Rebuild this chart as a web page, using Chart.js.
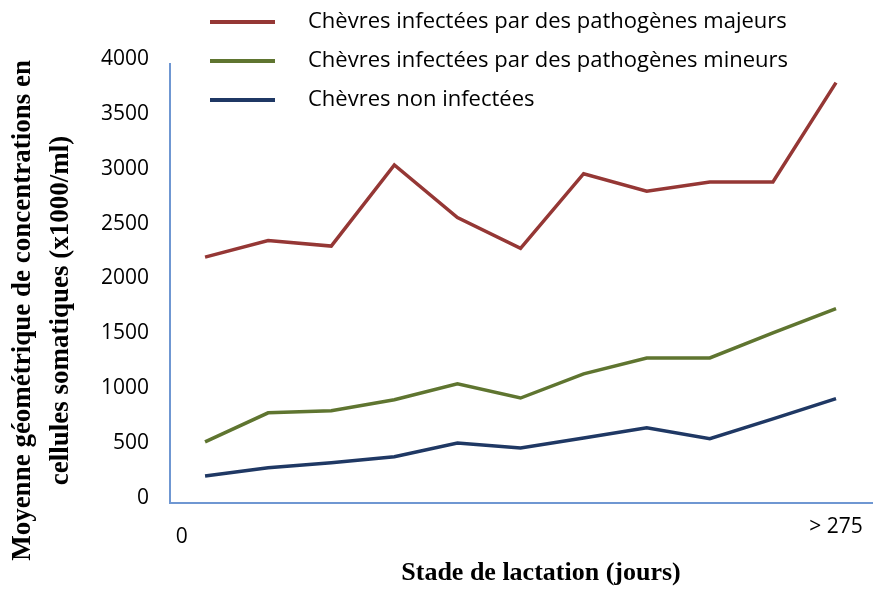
<!DOCTYPE html>
<html>
<head>
<meta charset="utf-8">
<script src="https://cdn.jsdelivr.net/npm/chart.js@4/dist/chart.umd.min.js"></script>
<style>
  html, body { margin: 0; padding: 0; background: #fff; }
</style>
</head>
<body>
<canvas id="chart" width="873" height="592"></canvas>
<script>
// Sampling points along lactation (index of each stage)
const stages = [0, 1, 2, 3, 4, 5, 6, 7, 8, 9, 10];

// Only two labels are printed on the x axis
const tickPositions = [-0.37, 10];
const tickLabels = ['0', '> 275'];

const seriesNames = [
  'Chèvres infectées par des pathogènes majeurs',
  'Chèvres infectées par des pathogènes mineurs',
  'Chèvres non infectées'
];
const seriesColors = ['#953735', '#5f7530', '#1f3864'];

// Geometric mean of somatic cell counts (x1000/ml)
const majeurs = [2240, 2390, 2340, 3080, 2600, 2320, 3000, 2840, 2925, 2925, 3830];
const mineurs = [555, 820, 840, 940, 1085, 955, 1175, 1320, 1320, 1550, 1770];
const nonInfectees = [245, 320, 365, 420, 545, 500, 590, 685, 585, 765, 950];

const allSeries = [majeurs, mineurs, nonInfectees];

// Legend drawn as a stacked list above the plot
const legendRows = [22, 61, 100];
const stackedLegend = {
  id: 'stackedLegend',
  afterDraw(chart) {
    const ctx = chart.ctx;
    ctx.save();
    chart.data.datasets.forEach((ds, i) => {
      const y = legendRows[i];
      ctx.strokeStyle = ds.borderColor;
      ctx.lineWidth = 4;
      ctx.beginPath();
      ctx.moveTo(210, y);
      ctx.lineTo(275, y);
      ctx.stroke();
      ctx.fillStyle = '#000';
      ctx.font = '22px "Open Sans"';
      ctx.textBaseline = 'middle';
      ctx.fillText(ds.label, 308, y);
    });
    ctx.restore();
  }
};

const chart = new Chart(document.getElementById('chart'), {
  type: 'line',
  data: {
    datasets: allSeries.map((values, i) => ({
      label: seriesNames[i],
      data: values.map((v, j) => ({ x: stages[j], y: v })),
      borderColor: seriesColors[i],
      backgroundColor: seriesColors[i],
      borderWidth: 3.5,
      pointRadius: 0,
      tension: 0
    }))
  },
  options: {
    responsive: false,
    animation: false,
    layout: { padding: { top: 64, right: 0, bottom: 0, left: 0 } },
    plugins: {
      legend: { display: false },
      tooltip: { enabled: false }
    },
    scales: {
      x: {
        type: 'linear',
        min: -0.555,
        max: 10.586,
        grid: { display: false, drawTicks: false },
        border: { display: true, color: '#6f97d2', width: 2 },
        afterBuildTicks: scale => {
          scale.ticks = tickPositions.map(v => ({ value: v }));
        },
        ticks: {
          autoSkip: false,
          maxRotation: 0,
          padding: 9,
          color: '#000',
          font: { family: '"Open Sans"', size: 21, lineHeight: '10px' },
          // empty lines push the labels down; "0" sits lower than "> 275"
          callback: (value, index) => index === 0 ? ['', '', tickLabels[0]] : ['', tickLabels[index]]
        },
        title: {
          display: true,
          text: '      Stade de lactation (jours)',
          color: '#000',
          font: { family: '"Liberation Serif"', size: 26, weight: 'bold' },
          padding: { top: 7, bottom: 3 }
        }
      },
      y: {
        min: 0,
        max: 4000,
        grid: { display: false, drawTicks: false },
        border: { display: true, color: '#6f97d2', width: 2 },
        ticks: {
          stepSize: 500,
          padding: 21,
          labelOffset: -5,
          color: '#000',
          font: { family: '"Open Sans"', size: 21 },
          callback: value => String(value)
        },
        title: {
          display: true,
          text: ['Moyenne géométrique de concentrations en        ', 'cellules somatiques (x1000/ml)        '],
          color: '#000',
          font: { family: '"Liberation Serif"', size: 27, weight: 'bold', lineHeight: '38px' },
          padding: { top: 4, bottom: 0 }
        }
      }
    }
  },
  plugins: [stackedLegend]
});
</script>
</body>
</html>
